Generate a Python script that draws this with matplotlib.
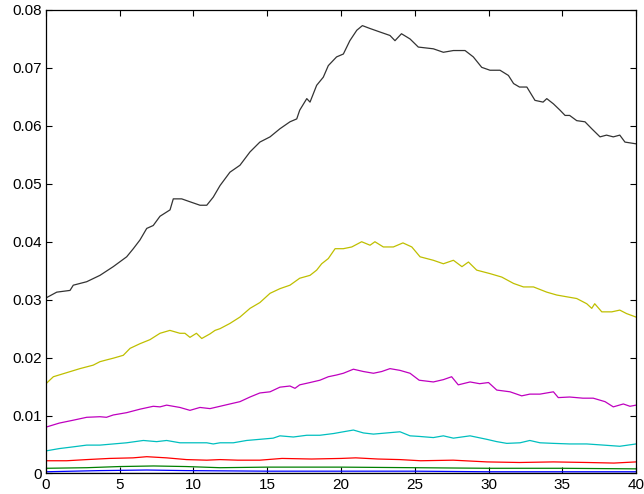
import numpy as np
import matplotlib.pyplot as plt

plt.rcParams['font.family'] = ['Liberation Sans', 'DejaVu Sans']

# Kurven (x, y) je Messreihe
x_k = [0, 0.73, 1.63, 1.85, 2.76, 3.66, 4.56, 5.47, 5.92, 6.37, 6.83, 7.27, 7.73, 8.41, 8.63,
       9.2, 9.76, 10.44, 10.9, 11.34, 11.8, 12.47, 13.15, 13.83, 14.5, 15.19, 15.86, 16.54,
       17.0, 17.2, 17.68, 17.9, 18.35, 18.8, 19.14, 19.7, 20.16, 20.6, 21.07, 21.45, 21.97,
       22.64, 23.32, 23.66, 24.1, 24.68, 25.24, 26.26, 26.94, 27.62, 28.41, 28.97, 29.54,
       30.1, 30.78, 31.35, 31.7, 32.1, 32.6, 33.15, 33.7, 33.95, 34.4, 34.85, 35.19, 35.5,
       35.98, 36.54, 37.0, 37.56, 38.0, 38.46, 38.9, 39.25, 40]
y_k = [0.0303, 0.0313, 0.0316, 0.0325, 0.0331, 0.0342, 0.0357, 0.0374, 0.0388, 0.0403, 0.0423,
       0.0428, 0.0444, 0.0455, 0.0474, 0.0474, 0.0469, 0.0463, 0.0463, 0.0477, 0.0497, 0.0520,
       0.0532, 0.0555, 0.0572, 0.0581, 0.0595, 0.0607, 0.0612, 0.0627, 0.0647, 0.0641, 0.0670,
       0.0684, 0.0704, 0.0719, 0.0724, 0.0747, 0.0765, 0.0773, 0.0768, 0.0762, 0.0756, 0.0747,
       0.0759, 0.0750, 0.0736, 0.0733, 0.0727, 0.0730, 0.0730, 0.0719, 0.0701, 0.0696, 0.0696,
       0.0687, 0.0673, 0.0667, 0.0667, 0.0644, 0.0641, 0.0647, 0.0638, 0.0627, 0.0618, 0.0618,
       0.0609, 0.0607, 0.0595, 0.0581, 0.0584, 0.0581, 0.0584, 0.0572, 0.0569]

x_y = [0, 0.5, 1.4, 2.3, 3.2, 3.66, 4.1, 4.56, 5.24, 5.7, 6.37, 7.05, 7.73, 8.4, 9.08, 9.42,
       9.76, 10.2, 10.56, 11.12, 11.46, 11.8, 12.47, 13.15, 13.83, 14.5, 15.19, 15.86, 16.54,
       17.2, 17.9, 18.35, 18.69, 19.14, 19.6, 20.16, 20.73, 21.4, 21.97, 22.3, 22.87, 23.55,
       24.2, 24.8, 25.36, 26.26, 26.94, 27.62, 28.2, 28.64, 29.2, 30.1, 30.9, 31.7, 32.37,
       33.05, 33.95, 34.63, 35.3, 35.98, 36.66, 37.0, 37.2, 37.68, 38.36, 38.9, 39.36, 40]
y_y = [0.0155, 0.0167, 0.0174, 0.0181, 0.0187, 0.0193, 0.0196, 0.0199, 0.0204, 0.0216, 0.0224,
       0.0231, 0.0242, 0.0247, 0.0242, 0.0242, 0.0235, 0.0242, 0.0233, 0.0241, 0.0247, 0.0250,
       0.0259, 0.0270, 0.0285, 0.0295, 0.0311, 0.0319, 0.0325, 0.0337, 0.0342, 0.0351, 0.0362,
       0.0371, 0.0388, 0.0388, 0.0391, 0.0400, 0.0394, 0.0400, 0.0391, 0.0391, 0.0398, 0.0391,
       0.0374, 0.0368, 0.0362, 0.0368, 0.0357, 0.0365, 0.0351, 0.0345, 0.0339, 0.0328, 0.0322,
       0.0322, 0.0313, 0.0308, 0.0305, 0.0302, 0.0293, 0.0285, 0.0293, 0.0279, 0.0279, 0.0282,
       0.0276, 0.0270]

x_m = [0, 0.9, 1.85, 2.76, 3.66, 4.1, 4.56, 5.47, 6.37, 7.27, 7.73, 8.18, 9.08, 9.76, 10.44,
       11.12, 11.8, 12.47, 13.15, 13.83, 14.5, 15.19, 15.86, 16.54, 16.88, 17.2, 17.9, 18.57,
       19.14, 19.7, 20.16, 20.84, 21.52, 22.2, 22.76, 23.32, 24.0, 24.68, 25.3, 26.26, 26.94,
       27.5, 27.95, 28.75, 29.4, 30.0, 30.56, 31.46, 32.25, 32.8, 33.49, 34.4, 34.73, 35.5,
       36.4, 37.1, 37.9, 38.46, 39.14, 39.59, 40]
y_m = [0.0080, 0.0087, 0.0092, 0.0097, 0.0098, 0.0097, 0.0101, 0.0105, 0.0111, 0.0116, 0.0115,
       0.0118, 0.0114, 0.0109, 0.0114, 0.0112, 0.0116, 0.0120, 0.0124, 0.0132, 0.0139, 0.0141,
       0.0149, 0.0151, 0.0147, 0.0153, 0.0157, 0.0161, 0.0167, 0.0170, 0.0173, 0.0180, 0.0176,
       0.0173, 0.0176, 0.0181, 0.0178, 0.0173, 0.0161, 0.0158, 0.0162, 0.0167, 0.0153, 0.0158,
       0.0155, 0.0157, 0.0144, 0.0141, 0.0134, 0.0137, 0.0137, 0.0141, 0.0131, 0.0132, 0.0130,
       0.0130, 0.0124, 0.0115, 0.0120, 0.0116, 0.0118]

x_c = [0, 0.9, 1.85, 2.76, 3.66, 4.56, 5.47, 6.6, 7.5, 8.18, 9.08, 9.98, 10.9, 11.34, 11.8,
       12.7, 13.6, 14.5, 15.4, 15.86, 16.77, 17.68, 18.57, 19.5, 20.16, 20.84, 21.52, 22.2,
       23.1, 24.0, 24.68, 25.3, 26.26, 26.94, 27.62, 28.75, 29.88, 30.56, 31.24, 32.14, 32.8,
       33.49, 34.4, 35.5, 36.66, 37.8, 38.9, 40]
y_c = [0.0039, 0.0043, 0.0046, 0.0049, 0.0049, 0.0051, 0.0053, 0.0057, 0.0055, 0.0057, 0.0053,
       0.0053, 0.0053, 0.0051, 0.0053, 0.0053, 0.0057, 0.0059, 0.0061, 0.0065, 0.0063, 0.0066,
       0.0066, 0.0069, 0.0072, 0.0075, 0.0070, 0.0068, 0.0070, 0.0072, 0.0065, 0.0064, 0.0062,
       0.0065, 0.0061, 0.0065, 0.0059, 0.0055, 0.0052, 0.0053, 0.0057, 0.0053, 0.0052, 0.0051,
       0.0051, 0.0049, 0.0047, 0.0051]

x_r = [0, 1.4, 2.76, 4.3, 5.9, 6.83, 8.18, 9.53, 10.9, 11.8, 13, 14.5, 16, 18, 20, 21, 22.5,
       24, 25.4, 27.6, 29.9, 32.1, 34.4, 36.7, 38.5, 40]
y_r = [0.0022, 0.0022, 0.0024, 0.0026, 0.0027, 0.0029, 0.0027, 0.0024, 0.0023, 0.0024, 0.0023,
       0.0023, 0.0026, 0.0025, 0.0026, 0.0027, 0.0025, 0.0024, 0.0022, 0.0023, 0.0020, 0.0019,
       0.0020, 0.0019, 0.0018, 0.0020]

x_g = [0, 2.76, 5, 7.3, 9.5, 11.8, 15, 20, 25, 30, 35, 40]
y_g = [0.0009, 0.0010, 0.0012, 0.0013, 0.0012, 0.0010, 0.0011, 0.0011, 0.0010, 0.0009,
       0.0009, 0.0008]

x_b = [0, 3.66, 6.83, 9.5, 15, 20, 25, 30, 35, 40]
y_b = [0.0003, 0.0005, 0.0006, 0.0005, 0.0004, 0.0004, 0.0004, 0.0003, 0.0003, 0.0003]

x_n = [0, 10, 20, 30, 40]
y_n = [0.0001, 0.0001, 0.0001, 0.0001, 0.0001]

xticks = [0, 5, 10, 15, 20, 25, 30, 35, 40]
yticks = [0, 0.01, 0.02, 0.03, 0.04, 0.05, 0.06, 0.07, 0.08]
ytick_labels = ['0', '0.01', '0.02', '0.03', '0.04', '0.05', '0.06', '0.07', '0.08']

fig = plt.figure(figsize=(6.44, 4.94), dpi=100)
ax = fig.add_axes([0.0714, 0.0415, 0.9162, 0.9383])

lw = 0.9
ax.plot(x_n, y_n, color='#00008b', lw=lw)
ax.plot(x_b, y_b, color='#0000ff', lw=lw)
ax.plot(x_g, y_g, color='#008000', lw=lw)
ax.plot(x_r, y_r, color='#ff0000', lw=lw)
ax.plot(x_c, y_c, color='#00bfbf', lw=lw)
ax.plot(x_m, y_m, color='#bf00bf', lw=lw)
ax.plot(x_y, y_y, color='#bfbf00', lw=lw)
ax.plot(x_k, y_k, color='#333333', lw=lw)

ax.set_xlim(0, 40)
ax.set_ylim(0, 0.08)
ax.set_xticks(xticks)
ax.set_xticklabels([str(t) for t in xticks])
ax.set_yticks(yticks)
ax.set_yticklabels(ytick_labels)
ax.tick_params(direction='in', top=True, right=True, length=4, width=0.8,
               labelsize=11, pad=3)
for s in ax.spines.values():
    s.set_linewidth(0.9)

fig.savefig('out.png', dpi=100)
